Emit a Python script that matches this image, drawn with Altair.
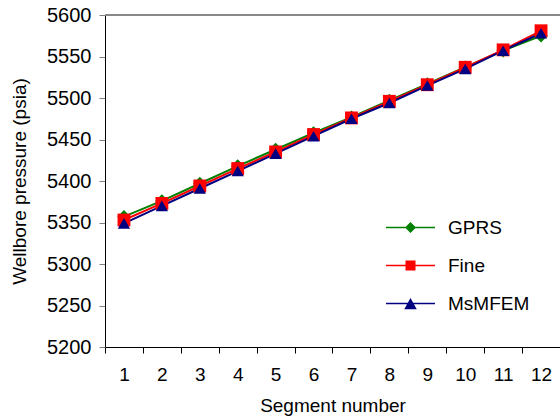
import altair as alt
import pandas as pd

segments = list(range(1, 12 + 1))
gprs = [5357, 5376, 5397, 5418, 5438, 5458, 5477, 5497, 5517, 5537, 5557, 5575]
fine = [5353, 5373, 5394, 5415, 5435, 5456, 5476, 5496, 5516, 5537, 5558, 5581]
msmfem = [5349, 5370, 5391, 5412, 5433, 5454, 5475, 5494, 5515, 5535, 5557, 5578]

methods = ["GPRS", "Fine", "MsMFEM"]
colors = ["#008000", "#FF0000", "#000080"]
plot_shapes = ["diamond", "square", "triangle-up"]
bar = "M-4.9,-0.17H4.9V0.17H-4.9Z "
legend_shapes = [
    bar + "M0,-1.1L1.1,0L0,1.1L-1.1,0Z",
    bar + "M-1,-1H1V1H-1Z",
    bar + "M0,-1.1L1.25,1.15H-1.25Z",
]

rows = []
for name, vals in zip(methods, [gprs, fine, msmfem]):
    for s, v in zip(segments, vals):
        rows.append({"segment": s, "method": name, "pressure": v, "order": methods.index(name)})
df = pd.DataFrame(rows)

FONT = "Liberation Sans"

x_enc = alt.X(
    "segment:O",
    title="Segment number",
    scale=alt.Scale(paddingInner=0, paddingOuter=0),
    axis=alt.Axis(
        labelAngle=0, tickBand="extent", tickSize=6, tickColor="black",
        domainColor="black", labelFontSize=19, labelPadding=12,
        titleFontSize=19, titlePadding=12, titleFontWeight="normal",
    ),
)
y_enc = alt.Y(
    "pressure:Q",
    title="Wellbore pressure (psia)",
    scale=alt.Scale(domain=[5200, 5600], nice=False, zero=False),
    axis=alt.Axis(
        values=list(range(5200, 5601, 50)), format="d", grid=False, tickSize=6,
        tickColor="#808080", domainColor="black", labelFontSize=20,
        labelPadding=8, titleFontSize=19, titlePadding=17, titleFontWeight="normal",
    ),
)

color_scale = alt.Scale(domain=methods, range=colors)

base = alt.Chart(df)

top_rule = alt.Chart(df).mark_rule(color="#888888", strokeWidth=2).encode(
    y=alt.datum(5600)
).transform_filter("datum.segment == 1 && datum.method == 'GPRS'")

lines = base.mark_line(strokeWidth=2).encode(
    x=x_enc, y=y_enc,
    color=alt.Color("method:N", scale=color_scale, legend=None),
    detail="method:N",
    order=alt.Order("order:Q"),
)

points = base.mark_point(filled=True, opacity=1).encode(
    x=x_enc, y=y_enc,
    color=alt.Color("method:N", scale=color_scale, legend=None),
    shape=alt.Shape("method:N", scale=alt.Scale(domain=methods, range=plot_shapes), legend=None),
    size=alt.Size("method:N", scale=alt.Scale(domain=methods, range=[180, 150, 260]), legend=None),
    order=alt.Order("order:Q"),
)

leg = dict(title=None, orient="none", legendX=296, legendY=203,
           labelFontSize=19, labelOffset=28, rowPadding=18,
           symbolOpacity=1, symbolStrokeWidth=0, padding=0)

legend_layer = base.transform_calculate(series="datum.method").mark_point(
    filled=True, opacity=0, size=144
).encode(
    x=x_enc, y=y_enc,
    color=alt.Color("series:N", scale=alt.Scale(domain=methods, range=colors),
                    legend=alt.Legend(**leg)),
    shape=alt.Shape("series:N", scale=alt.Scale(domain=methods, range=legend_shapes),
                    legend=alt.Legend(**leg)),
)

chart = alt.layer(top_rule, legend_layer, lines, points).resolve_scale(
    color="independent", shape="independent", size="independent"
).properties(
    width=455, height=332,
    autosize=alt.AutoSizeParams(type="none"),
    padding={"left": 105, "top": 15, "right": 0, "bottom": 73},
).configure_view(stroke=None).configure(
    font=FONT
).configure_axis(labelColor="black", titleColor="black", labelFont=FONT, titleFont=FONT).configure_legend(
    labelFont=FONT, labelColor="black"
)

chart.save("out.html", embed_options={"renderer": "svg", "actions": False})
